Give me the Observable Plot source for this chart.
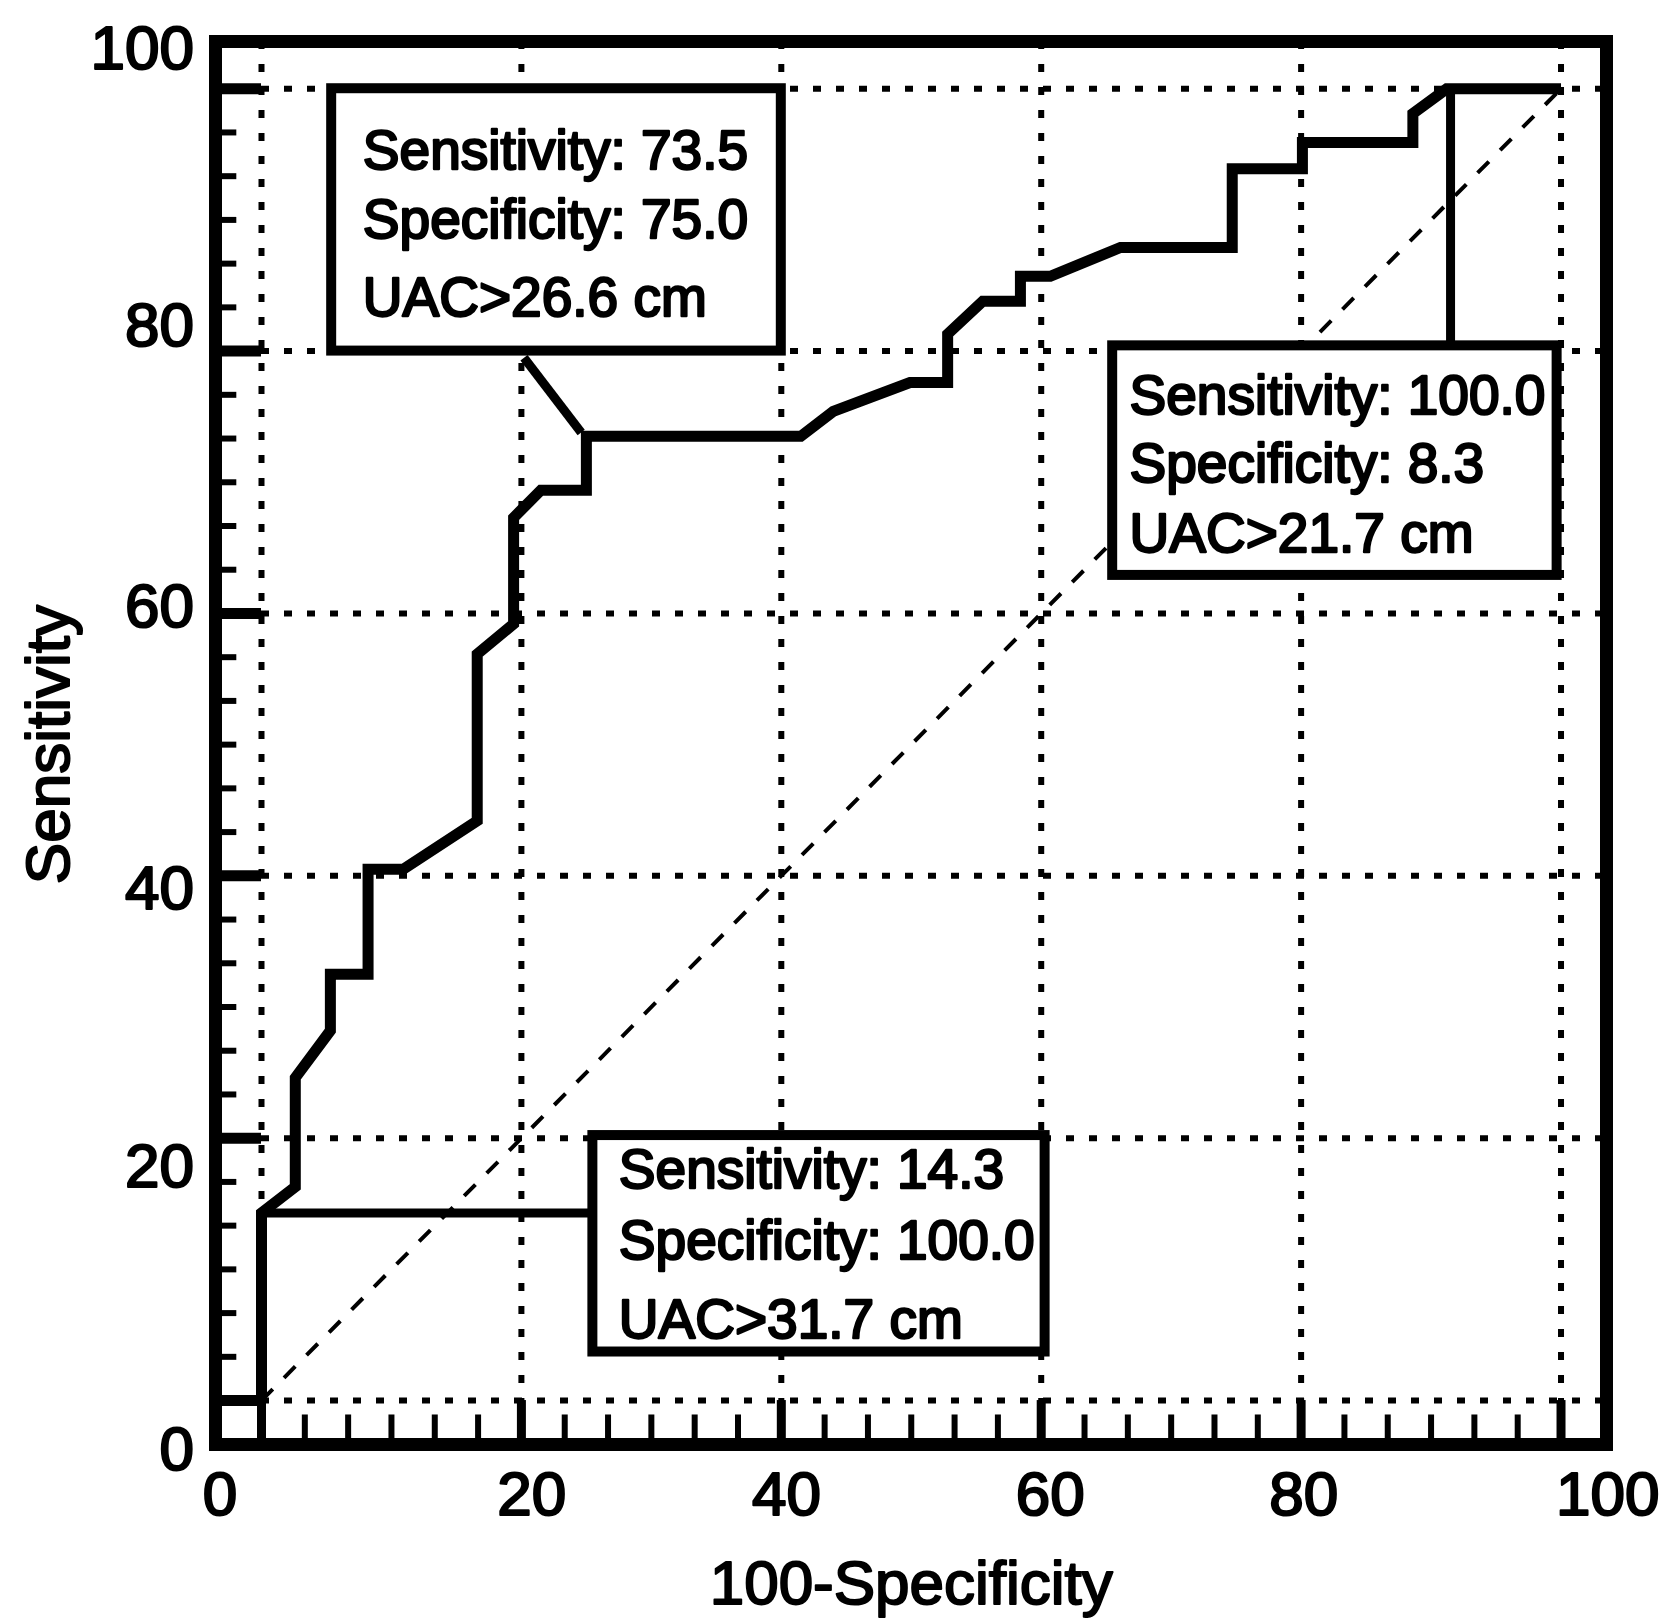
<!DOCTYPE html>
<html>
<head>
<meta charset="utf-8">
<script src="https://cdn.jsdelivr.net/npm/d3@7"></script>
<script src="https://cdn.jsdelivr.net/npm/@observablehq/plot@0.6"></script>
<style>
  html, body { margin: 0; padding: 0; background: #fff; }
  #chart svg { display: block; }
</style>
</head>
<body>
<div id="chart"></div>
<script>
// ---- Data ----
// ROC curve vertices: 100-Specificity (%) vs Sensitivity (%)
const fpr  = [0, 0, 2.6, 2.6, 5.3, 5.3, 8.2, 8.2, 10.9, 16.6, 16.6, 19.4, 19.4, 21.5, 25.0, 25.0, 41.5, 44.0, 49.9, 52.8, 52.8, 55.5, 58.4, 58.4, 60.7, 66.1, 74.7, 74.7, 80.1, 80.1, 88.6, 88.6, 91.2, 100];
const sens = [0, 14.3, 16.3, 24.6, 28.2, 32.5, 32.5, 40.5, 40.5, 44.2, 56.9, 59.2, 67.3, 69.4, 69.4, 73.5, 73.5, 75.4, 77.6, 77.6, 81.3, 83.8, 83.8, 85.7, 85.7, 87.9, 87.9, 93.9, 93.9, 95.9, 95.9, 98.1, 100, 100];

// Reference (chance) diagonal
const diagX = [0, 100];
const diagY = [0, 100];

// Axes
const tickValues = [0, 20, 40, 60, 80, 100];
const tickLabels = ["0", "20", "40", "60", "80", "100"];
const xTickLabelAt = [-3.2, 20.8, 40.4, 60.7, 80.2, 103.6];
const yTickLabelAt = [-3.8, 17.8, 39.0, 60.5, 81.9, 103.0];
const xTitle = "100-Specificity";
const yTitle = "Sensitivity";

// Annotation boxes (data units)
const boxText = [
  ["Sensitivity: 73.5", "Specificity: 75.0", "UAC>26.6 cm"],
  ["Sensitivity: 100.0", "Specificity: 8.3", "UAC>21.7 cm"],
  ["Sensitivity: 14.3", "Specificity: 100.0", "UAC>31.7 cm"]
];
const boxX1 = [5.4, 65.5, 25.5];
const boxX2 = [40.0, 99.7, 60.3];
const boxY1 = [80.0, 62.9, 3.7];
const boxY2 = [100.0, 80.4, 20.2];
const boxTextX = [7.8, 66.8, 27.5];
const boxTextY = [[93.9, 88.6, 82.7], [75.2, 70.0, 64.7], [16.2, 10.8, 4.8]];
// Leader lines from curve point to box
const leadX1 = [24.6, 91.5, 0];
const leadY1 = [73.8, 100, 14.3];
const leadX2 = [20.2, 91.5, 25.5];
const leadY2 = [79.5, 80.4, 14.3];

// ---- Derived tables ----
const xMin = -3.54, xMax = 103.5, yMin = -3.35, yMax = 103.6;
const minorTicks = d3.range(31).filter(k => k % 6 !== 0).map(k => k * 20 / 6);
const curve = fpr.map((x, i) => ({x, y: sens[i]}));
const diag = diagX.map((x, i) => ({x, y: diagY[i]}));
const boxes = boxX1.map((x1, i) => ({x1, x2: boxX2[i], y1: boxY1[i], y2: boxY2[i]}));
const leads = leadX1.map((x1, i) => ({x1, y1: leadY1[i], x2: leadX2[i], y2: leadY2[i]}));
const lines = boxText.flatMap((ls, i) => ls.map((t, j) => ({t, x: boxTextX[i], y: boxTextY[i][j]})));
const xLab = tickLabels.map((t, i) => ({t, x: xTickLabelAt[i]}));
const yLab = tickLabels.map((t, i) => ({t, y: yTickLabelAt[i]}));

const font = "'Liberation Sans', Arial, Helvetica, sans-serif";

const chart = Plot.plot({
  width: 1660,
  height: 1618,
  marginLeft: 215,
  marginRight: 54,
  marginTop: 41,
  marginBottom: 174,
  x: {domain: [xMin, xMax], axis: null},
  y: {domain: [yMin, yMax], axis: null},
  style: {fontFamily: font, background: "white", color: "black"},
  marks: [
    // dotted grid
    Plot.ruleX(tickValues, {stroke: "black", strokeWidth: 6, strokeDasharray: "8,15"}),
    Plot.ruleY(tickValues, {stroke: "black", strokeWidth: 6, strokeDasharray: "8,15"}),
    // ticks on left and bottom
    Plot.ruleY(tickValues, {x1: xMin, x2: 0, stroke: "black", strokeWidth: 11}),
    Plot.ruleY(minorTicks, {x1: xMin, x2: -1.9, stroke: "black", strokeWidth: 6}),
    Plot.ruleX(tickValues, {y1: yMin, y2: 0, stroke: "black", strokeWidth: 9}),
    Plot.ruleX(minorTicks, {y1: yMin, y2: -1.1, stroke: "black", strokeWidth: 6}),
    // chance diagonal
    Plot.line(diag, {x: "x", y: "y", stroke: "black", strokeWidth: 4, strokeDasharray: "16,16", strokeLinecap: "butt"}),
    // ROC curve
    Plot.line(curve, {x: "x", y: "y", stroke: "black", strokeWidth: 11, strokeLinejoin: "miter", strokeMiterlimit: 4, strokeLinecap: "butt"}),
    // leader lines
    Plot.link(leads, {x1: "x1", y1: "y1", x2: "x2", y2: "y2", stroke: "black", strokeWidth: 9}),
    // annotation boxes
    Plot.rect(boxes, {x1: "x1", x2: "x2", y1: "y1", y2: "y2", fill: "white", stroke: "black", strokeWidth: 10}),
    Plot.text(lines, {x: "x", y: "y", text: "t", textAnchor: "start", lineAnchor: "bottom", fontSize: 55, fill: "black", stroke: "black", strokeWidth: 2.4}),
    // frame
    Plot.frame({stroke: "black", strokeWidth: 13}),
    // tick labels
    Plot.text(xLab, {x: "x", y: -7.2, text: "t", textAnchor: "middle", lineAnchor: "middle", fontSize: 62, fill: "black", stroke: "black", strokeWidth: 2.2}),
    Plot.text(yLab, {x: -5.2, y: "y", text: "t", textAnchor: "end", lineAnchor: "middle", fontSize: 62, fill: "black", stroke: "black", strokeWidth: 2.2}),
    // axis titles
    Plot.text([xTitle], {x: 50, y: -15.5, textAnchor: "middle", lineAnchor: "bottom", fontSize: 62, fill: "black", stroke: "black", strokeWidth: 2}),
    Plot.text([yTitle], {frameAnchor: "left", y: 50, dx: -147, rotate: -90, textAnchor: "middle", lineAnchor: "bottom", fontSize: 62, fill: "black", stroke: "black", strokeWidth: 2})
  ]
});

document.getElementById("chart").appendChild(chart);
</script>
</body>
</html>
